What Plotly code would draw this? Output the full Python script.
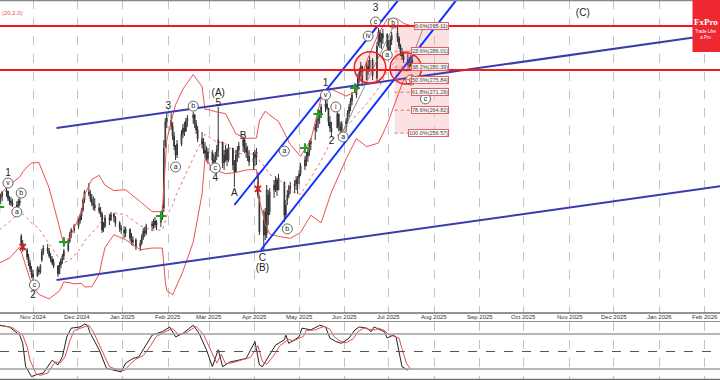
import pandas as pd
import plotly.graph_objects as go

# ---------------- data ----------------
holidays = ["2024-11-28", "2024-12-25", "2025-01-01", "2025-01-09", "2025-01-20",
            "2025-02-17", "2025-04-18", "2025-05-26", "2025-06-19", "2025-07-04"]
bar_dates = pd.bdate_range("2024-10-09", "2025-07-17", freq="C", holidays=holidays)

open_px = [
    230.7, 233.2, 233.9, 235.4, 235.7, 232.9, 232.1, 231.4, 230.7, 230.0, 232.1, 219.5, 217.0, 214.5, 212.0, 209.8, 207.7,
    205.9, 205.1, 207.3, 206.6, 210.9, 213.8, 215.2, 214.1, 212.3, 211.3, 210.2, 208.7, 205.9, 209.1, 210.9, 212.3, 214.5, 217.7, 219.9, 221.7,
    223.1, 224.9, 226.7, 228.9, 232.5, 235.4, 234.7, 232.9, 231.4, 230.7, 229.6, 228.5, 227.5, 222.4, 223.1, 226.0, 225.3, 227.5, 226.4, 224.2, 222.4,
    221.7, 220.6, 222.1, 218.8, 217.4, 218.1, 215.6, 217.0, 219.2, 221.3, 220.6, 223.1, 223.9, 224.9, 223.5, 224.6, 226.0, 229.6, 251.9, 260.6,
    261.3, 259.1, 255.5, 251.9, 248.7, 252.7, 256.3, 258.4, 257.3, 260.9, 262.0, 263.1, 259.9, 257.7, 254.5, 252.7, 250.5, 249.4, 247.3,
    249.8, 246.9, 246.2, 248.3, 250.5, 253.4, 245.8, 248.7, 250.5, 246.9, 251.2, 245.1, 242.6, 248.7, 250.5, 251.9, 254.1, 251.2, 249.8, 248.3, 246.2,
    247.6, 249.1, 241.5, 233.6, 219.9, 228.2, 220.3, 234.3, 228.2, 236.1, 237.9, 239.7, 236.1, 239.0, 227.1, 232.5, 234.3, 236.8, 237.5, 238.3, 238.3,
    240.4, 241.9, 244.7, 246.9, 248.3, 249.8, 252.7, 257.7, 258.8, 260.9, 262.0, 263.8, 266.0, 267.1, 265.6, 260.6, 258.4, 258.4, 263.5, 259.1, 257.7,
    259.9, 260.9, 263.8, 266.0, 268.1, 270.3, 272.8, 276.4, 278.6, 280.7, 275.7, 280.7, 279.3, 282.9, 276.4, 288.7, 293.0, 289.4, 290.8, 292.3,
    287.6, 286.5, 290.1, 292.6, 290.8, 287.9, 285.8, 284.3, 282.9, 282.2, 280.7, 282.9,
]
high_px = [
    233.9, 234.7, 235.7, 237.2, 235.7, 233.9, 233.6, 232.9, 232.1, 232.9, 233.6, 220.3, 218.1, 215.2, 213.1, 210.9, 208.7,
    207.3, 208.7, 208.4, 209.5, 214.9, 216.3, 216.7, 215.2, 213.4, 212.3, 211.3, 209.1, 210.2, 211.6, 213.1, 214.9, 218.8, 221.0, 222.4, 223.9,
    226.0, 227.5, 229.6, 233.2, 236.1, 238.6, 236.1, 234.7, 233.9, 233.2, 231.4, 230.0, 228.2, 224.6, 227.1, 227.5, 228.2, 227.8, 226.7, 224.9, 223.5,
    223.1, 222.8, 222.1, 220.6, 219.5, 218.8, 218.1, 220.3, 222.4, 222.8, 223.9, 224.9, 225.7, 226.4, 225.3, 227.1, 230.7, 254.1, 262.0, 264.2,
    263.8, 260.6, 257.0, 252.3, 254.1, 257.7, 259.9, 260.6, 262.0, 263.1, 264.2, 263.5, 261.3, 259.1, 257.0, 254.8, 253.4, 251.9, 251.2,
    250.5, 249.1, 249.8, 252.3, 266.0, 253.4, 250.5, 252.3, 251.2, 252.7, 251.2, 246.9, 250.5, 251.9, 253.4, 255.2, 254.5, 253.0, 251.9, 250.5, 249.8,
    250.5, 251.2, 242.6, 234.3, 228.9, 229.6, 237.9, 236.1, 236.8, 239.7, 241.1, 240.4, 241.9, 239.0, 232.5, 236.1, 237.9, 239.0, 239.7, 241.1, 241.1,
    243.3, 245.8, 248.3, 249.8, 251.2, 254.1, 254.8, 259.9, 262.0, 263.1, 264.9, 267.1, 268.5, 269.6, 265.6, 262.7, 260.6, 264.9, 263.5, 260.6, 260.9,
    262.0, 264.9, 267.1, 269.2, 271.4, 273.9, 277.9, 280.0, 282.2, 280.7, 282.2, 282.9, 284.3, 283.6, 289.4, 294.4, 293.7, 292.6, 294.1, 292.3,
    290.1, 291.5, 293.0, 295.1, 291.5, 288.7, 287.2, 286.1, 285.1, 284.0, 284.7, 283.6,
]
low_px = [
    230.0, 231.1, 232.1, 233.6, 232.1, 230.7, 230.3, 230.0, 229.3, 230.0, 230.3, 215.9, 213.8, 210.9, 208.7, 206.6, 204.4,
    203.3, 204.8, 205.5, 205.9, 210.2, 212.7, 213.1, 211.6, 210.2, 209.1, 208.0, 204.8, 205.9, 208.0, 209.5, 210.9, 213.8, 217.0, 218.8, 220.6,
    222.1, 223.9, 225.3, 228.2, 231.4, 233.9, 231.8, 230.3, 228.9, 228.5, 227.5, 226.4, 220.6, 221.0, 222.4, 223.5, 224.9, 224.6, 222.8, 221.0, 220.3,
    218.8, 219.2, 217.7, 216.3, 215.9, 214.5, 214.1, 216.3, 218.1, 219.2, 219.9, 221.3, 222.1, 222.4, 221.7, 222.8, 225.3, 228.2, 251.2, 258.4,
    257.7, 254.1, 250.5, 246.9, 247.6, 251.9, 254.8, 255.5, 257.0, 258.8, 259.9, 258.4, 256.3, 253.4, 251.2, 249.1, 247.6, 246.2, 245.5,
    245.5, 244.7, 245.1, 246.9, 248.0, 244.0, 243.3, 246.2, 244.7, 246.2, 243.3, 237.2, 242.6, 246.2, 247.6, 249.8, 249.4, 247.6, 246.5, 244.7, 243.3,
    244.7, 245.1, 233.2, 219.9, 214.5, 218.1, 218.8, 223.5, 227.1, 233.2, 235.4, 233.9, 236.1, 224.6, 226.0, 230.7, 233.2, 234.7, 235.0, 236.1, 234.7,
    238.3, 241.1, 243.3, 244.7, 246.2, 248.3, 250.5, 254.1, 257.0, 258.4, 259.9, 262.0, 264.2, 264.9, 259.1, 257.0, 255.2, 258.4, 257.3, 255.9, 256.6,
    257.0, 259.9, 262.4, 264.5, 266.7, 269.2, 272.1, 275.0, 276.8, 273.5, 275.7, 277.5, 278.6, 275.7, 275.0, 287.9, 287.2, 286.9, 288.7, 286.1,
    285.4, 286.5, 288.3, 289.4, 286.9, 284.3, 282.9, 281.8, 280.7, 279.7, 280.4, 280.0,
]
close_px = [
    233.2, 233.9, 235.4, 236.1, 232.9, 232.1, 231.4, 230.7, 230.0, 232.1, 231.4, 217.0, 214.5, 212.0, 209.8, 207.7, 205.5,
    204.8, 207.7, 206.6, 208.7, 213.8, 215.2, 214.1, 212.3, 211.3, 209.8, 208.7, 205.9, 209.1, 210.9, 212.3, 214.1, 217.7, 219.9, 221.7, 223.1,
    224.9, 226.7, 228.9, 232.5, 235.4, 234.7, 232.9, 231.4, 230.7, 229.6, 228.5, 227.5, 221.7, 223.5, 226.0, 225.3, 227.5, 226.4, 224.2, 222.4, 221.7,
    220.6, 222.1, 218.8, 217.4, 218.1, 215.6, 217.0, 219.2, 221.3, 220.6, 223.1, 223.9, 224.9, 223.5, 224.6, 226.0, 228.9, 251.2, 260.6, 262.0,
    259.1, 255.5, 251.9, 248.7, 252.7, 256.3, 258.4, 257.3, 260.9, 262.0, 263.1, 259.9, 257.7, 254.5, 252.7, 250.5, 249.4, 247.3, 249.8,
    246.9, 246.2, 248.3, 250.5, 254.1, 245.8, 248.7, 250.5, 246.9, 251.2, 245.1, 242.6, 248.7, 250.5, 251.9, 254.1, 251.2, 249.8, 248.3, 246.2, 247.6,
    249.1, 249.8, 234.3, 221.0, 225.3, 219.9, 236.1, 227.1, 235.4, 237.9, 239.7, 236.1, 240.4, 227.1, 230.7, 234.3, 236.8, 237.5, 238.3, 239.7, 240.4,
    241.9, 244.7, 246.9, 248.3, 249.8, 252.7, 253.7, 258.8, 260.9, 262.0, 263.8, 266.0, 267.1, 265.6, 260.6, 258.4, 257.0, 263.5, 259.1, 257.7, 259.9,
    260.9, 263.8, 266.0, 268.1, 270.3, 272.8, 276.4, 278.6, 280.7, 275.0, 280.7, 279.3, 282.9, 277.1, 287.9, 293.0, 289.4, 290.8, 292.3, 287.6,
    286.5, 290.1, 291.9, 290.8, 287.9, 285.8, 284.3, 282.9, 282.2, 280.7, 282.9, 281.5,
]

# Bollinger bands (20, 2.0)
bb_dates = ["2024-10-09", "2024-10-16", "2024-10-23", "2024-10-25", "2024-10-28", "2024-10-31", "2024-11-05", "2024-11-12",
            "2024-11-19", "2024-11-22", "2024-11-26", "2024-11-29", "2024-12-04", "2024-12-06", "2024-12-11", "2024-12-16",
            "2024-12-18", "2024-12-20", "2024-12-26", "2025-01-03", "2025-01-13", "2025-01-21", "2025-01-28", "2025-01-29",
            "2025-01-30", "2025-01-31", "2025-02-04", "2025-02-06", "2025-02-11", "2025-02-18", "2025-02-24", "2025-02-26",
            "2025-02-28", "2025-03-05", "2025-03-12", "2025-03-19", "2025-03-26", "2025-04-02", "2025-04-04", "2025-04-08",
            "2025-04-11", "2025-04-17", "2025-04-25", "2025-05-02", "2025-05-09", "2025-05-16", "2025-05-23", "2025-06-02",
            "2025-06-09", "2025-06-16", "2025-06-24", "2025-06-30", "2025-07-07", "2025-07-11", "2025-07-17"]
bb_upper = [234.3, 237.9, 240.8, 242.6, 244.4, 245.8, 246.0, 236.8, 222.7, 216.1, 218.9, 222.5, 228.4, 234.3, 239.9, 241.4,
            239.6, 237.8, 235.9, 236.2, 231.9, 228.3, 228.3, 237.5, 246.8, 254.0, 262.8, 266.8, 272.4, 277.7, 273.3, 265.1,
            265.1, 264.3, 263.6, 256.3, 254.7, 254.8, 261.0, 264.5, 263.1, 260.8, 252.5, 248.2, 254.2, 269.1, 272.4, 269.9,
            271.6, 282.5, 292.4, 297.6, 297.7, 296.1, 295.1]
bb_middle = [221.7, 224.6, 228.2, 227.5, 226.0, 224.2, 222.2, 216.9, 211.3, 210.0, 210.8, 212.4, 215.5, 217.7, 220.6, 223.5,
             225.3, 226.6, 227.9, 227.2, 223.2, 221.7, 221.7, 223.0, 224.9, 227.0, 230.6, 233.8, 239.6, 247.6, 254.0, 256.2,
             255.5, 253.7, 252.8, 249.3, 249.0, 249.1, 246.6, 244.2, 241.7, 240.1, 235.6, 234.5, 240.6, 246.7, 253.8, 258.6,
             263.1, 267.1, 272.7, 278.7, 283.7, 285.9, 286.4]
bb_lower = [209.8, 211.6, 215.6, 212.3, 207.7, 202.3, 198.5, 196.9, 199.8, 203.0, 202.7, 202.3, 202.5, 201.2, 201.3, 205.7,
            210.9, 215.4, 220.0, 218.2, 214.6, 215.2, 215.2, 208.6, 203.2, 199.9, 198.4, 200.8, 206.8, 217.4, 234.6, 247.4,
            245.9, 243.2, 242.0, 242.4, 243.3, 243.5, 232.4, 223.9, 220.3, 219.4, 218.7, 220.8, 227.0, 224.3, 235.3, 247.3,
            254.6, 251.7, 253.0, 259.8, 269.7, 275.6, 277.8]

# stochastic
stoch_k_dates = ["2024-10-09", "2024-10-16", "2024-10-23", "2024-10-25", "2024-10-27", "2024-10-31", "2024-11-03", "2024-11-08",
                 "2024-11-14", "2024-11-18", "2024-11-21", "2024-11-24", "2024-11-27", "2024-12-03", "2024-12-06", "2024-12-08",
                 "2024-12-10", "2024-12-16", "2024-12-21", "2024-12-26", "2024-12-31", "2025-01-03", "2025-01-08", "2025-01-12",
                 "2025-01-17", "2025-01-21", "2025-01-28", "2025-02-02", "2025-02-06", "2025-02-11", "2025-02-18", "2025-02-22",
                 "2025-02-27", "2025-03-03", "2025-03-07", "2025-03-10", "2025-03-15", "2025-03-21", "2025-03-26", "2025-04-01",
                 "2025-04-04", "2025-04-06", "2025-04-11", "2025-04-15", "2025-04-21", "2025-04-22", "2025-04-24", "2025-05-01",
                 "2025-05-03", "2025-05-09", "2025-05-15", "2025-05-19", "2025-05-22", "2025-05-26", "2025-05-30", "2025-06-04",
                 "2025-06-08", "2025-06-11", "2025-06-16", "2025-06-19", "2025-06-21", "2025-06-25", "2025-06-28", "2025-06-30",
                 "2025-07-04", "2025-07-06", "2025-07-08", "2025-07-10", "2025-07-14"]
stoch_k = [95, 92, 78, 64, 24, 7, 10, 13, 35, 27, 41, 75, 90, 92, 97, 95, 81, 53, 21, 18, 15, 30, 38, 41, 61, 78, 84, 92, 75, 81,
           95, 81, 53, 24, 53, 24, 32, 35, 38, 67, 27, 24, 44, 61, 70, 78, 64, 75, 90, 87, 95, 92, 73, 67, 64, 73, 87, 92, 90, 84,
           92, 87, 84, 73, 78, 75, 47, 24, 18]
stoch_d_dates = ["2024-10-11", "2024-10-18", "2024-10-25", "2024-10-28", "2024-10-30", "2024-11-03", "2024-11-06", "2024-11-11",
                 "2024-11-16", "2024-11-20", "2024-11-23", "2024-11-26", "2024-11-29", "2024-12-05", "2024-12-09", "2024-12-12",
                 "2024-12-18", "2024-12-23", "2024-12-28", "2025-01-02", "2025-01-06", "2025-01-10", "2025-01-15", "2025-01-20",
                 "2025-01-24", "2025-01-30", "2025-02-04", "2025-02-08", "2025-02-13", "2025-02-20", "2025-02-25", "2025-03-02",
                 "2025-03-06", "2025-03-09", "2025-03-12", "2025-03-17", "2025-03-23", "2025-03-29", "2025-04-03", "2025-04-06",
                 "2025-04-09", "2025-04-14", "2025-04-18", "2025-04-24", "2025-04-27", "2025-05-04", "2025-05-06", "2025-05-12",
                 "2025-05-18", "2025-05-22", "2025-05-25", "2025-05-29", "2025-06-02", "2025-06-07", "2025-06-10", "2025-06-14",
                 "2025-06-18", "2025-06-22", "2025-06-24", "2025-06-28", "2025-07-01", "2025-07-05", "2025-07-08", "2025-07-10",
                 "2025-07-13", "2025-07-16"]
stoch_d = [94, 91, 78, 58, 35, 12, 9, 13, 32, 31, 42, 68, 86, 92, 95, 84, 52, 24, 19, 17, 28, 37, 43, 60, 76, 84, 89, 79, 82, 93,
           79, 52, 30, 45, 29, 31, 35, 40, 60, 33, 28, 44, 60, 71, 68, 76, 86, 87, 93, 88, 75, 68, 65, 72, 84, 90, 88, 87, 90, 86,
           79, 76, 73, 55, 30, 19]
stoch_levels = [80, 20]
stoch_mid = 50

# horizontal key levels and trend lines
key_levels = [295.1, 279.3]
trend_long_dates = [["2024-11-17", "2026-02-12"], ["2024-11-17", "2026-02-12"]]
trend_long_prices = [[258.4, 292.4], [203.7, 237.5]]
channel_dates = [["2025-03-18", "2025-07-13"], ["2025-04-05", "2025-08-24"]]
channel_prices = [[230.7, 308.1], [214.5, 309.9]]

# Fibonacci retracement
fib_high, fib_low = 295.11, 256.57
fib_levels = [0.0, 23.6, 38.2, 50.0, 61.8, 78.6, 100.0]
fib_start, fib_end = "2025-07-05", "2025-08-11"

# wave labels
plain_text = ["1", "2", "3", "(A)", "5", "4", "A", "B", "C", "(B)", "1", "2", "3", "(C)"]
plain_dates = ["2024-10-15", "2024-11-01", "2025-02-01", "2025-03-07", "2025-03-07", "2025-03-05", "2025-03-18", "2025-03-24",
               "2025-04-06", "2025-04-06", "2025-05-19", "2025-05-23", "2025-06-22", "2025-11-10"]
plain_prices = [242.2, 198.3, 266.0, 271.0, 267.4, 240.4, 235.0, 255.5, 211.6, 208.0, 274.6, 253.4, 301.3, 299.5]

circ_text = ["v", "a", "b", "c", "a", "b", "c", "a", "b", "v", "i", "a", "iv", "c", "a", "b", "c", "d"]
circ_dates = ["2024-10-15", "2024-10-21", "2024-10-24", "2024-11-02", "2025-02-06", "2025-02-18", "2025-03-05", "2025-04-21",
              "2025-04-23", "2025-05-19", "2025-05-26", "2025-05-31", "2025-06-17", "2025-06-22", "2025-06-30", "2025-07-04",
              "2025-07-26", "2025-07-16"]
circ_prices = [238.6, 228.2, 235.0, 201.9, 244.4, 266.3, 244.0, 250.1, 222.1, 270.3, 266.0, 255.2, 291.5, 296.6, 284.7, 296.2,
               268.9, 275.7]

buy_dates = ["2024-10-09", "2024-11-22", "2025-01-27", "2025-05-05", "2025-05-14", "2025-06-08"]
buy_prices = [230.0, 217.4, 226.7, 251.2, 263.5, 272.8]
sell_dates = ["2024-10-25", "2025-04-03"]
sell_prices = [215.6, 236.5]

circle_dates = ["2025-06-18 07:00", "2025-07-12 14:00"]
circle_prices = [280.2, 279.9]
circle_r_days, circle_r_price = 10.7, 5.65

guide_dates = [["2025-05-30", "2025-07-04"], ["2025-07-13", "2025-07-24"]]
guide_prices = [[256.3, 294.8], [278.6, 293.7]]

month_ticks = pd.date_range("2024-11-01", "2026-02-01", freq="MS")
x_range = ["2024-10-09 13:13", "2026-02-11 08:24"]

# ---------------- figure ----------------
n = min(len(bar_dates), len(open_px), len(high_px), len(low_px), len(close_px))
bar_dates = bar_dates[:n]

fig = go.Figure()
RED = "#f05050"
fig.add_trace(go.Scatter(x=bb_dates, y=bb_upper, mode="lines", line=dict(color=RED, width=1), hoverinfo="skip"))
fig.add_trace(go.Scatter(x=bb_dates, y=bb_lower, mode="lines", line=dict(color=RED, width=1), hoverinfo="skip"))
fig.add_trace(go.Scatter(x=bb_dates, y=bb_middle, mode="lines", line=dict(color=RED, width=0.8, dash="dot"),
                         hoverinfo="skip"))

fig.add_trace(go.Candlestick(
    x=bar_dates, open=open_px[:n], high=high_px[:n], low=low_px[:n], close=close_px[:n],
    increasing=dict(line=dict(color="#303030", width=1), fillcolor="#ffffff"),
    decreasing=dict(line=dict(color="#303030", width=1), fillcolor="#303030"),
    whiskerwidth=0, hoverinfo="skip"))

for d, p in zip(trend_long_dates, trend_long_prices):
    fig.add_trace(go.Scatter(x=d, y=p, mode="lines", line=dict(color="#3b3bb0", width=2), hoverinfo="skip"))
for d, p in zip(channel_dates, channel_prices):
    fig.add_trace(go.Scatter(x=d, y=p, mode="lines", line=dict(color="#1030ff", width=2), hoverinfo="skip"))
for d, p in zip(guide_dates, guide_prices):
    fig.add_trace(go.Scatter(x=d, y=p, mode="lines", line=dict(color="#707070", width=0.8), hoverinfo="skip"))

fig.add_trace(go.Scatter(x=buy_dates, y=buy_prices, mode="markers",
                         marker=dict(symbol="cross-thin", size=7, line=dict(color="#20a020", width=2)), hoverinfo="skip"))
fig.add_trace(go.Scatter(x=sell_dates, y=sell_prices, mode="markers",
                         marker=dict(symbol="x-thin", size=6, line=dict(color="#d02020", width=2)), hoverinfo="skip"))

fig.add_trace(go.Scatter(x=plain_dates, y=plain_prices, mode="text", text=plain_text,
                         textfont=dict(size=10, color="#222", family="Liberation Sans"), hoverinfo="skip"))
fig.add_trace(go.Scatter(x=circ_dates, y=circ_prices, mode="markers+text", text=circ_text, textposition="middle center",
                         marker=dict(size=10, color="white", line=dict(color="#666", width=1)),
                         textfont=dict(size=7, color="#222", family="Liberation Sans"), hoverinfo="skip"))

fig.add_trace(go.Scatter(x=stoch_k_dates, y=stoch_k, mode="lines", line=dict(color="#222", width=1),
                         xaxis="x2", yaxis="y2", hoverinfo="skip"))
fig.add_trace(go.Scatter(x=stoch_d_dates, y=stoch_d, mode="lines", line=dict(color="#e05050", width=1),
                         xaxis="x2", yaxis="y2", hoverinfo="skip"))

shapes = []
shapes.append(dict(type="rect", xref="x", yref="y", x0=fib_start, x1=fib_end, y0=fib_low, y1=fib_high,
                   fillcolor="rgba(235,120,120,0.22)", line=dict(width=0), layer="below"))
annotations = []
for lv in fib_levels:
    price = fib_high - (fib_high - fib_low) * lv / 100.0
    shapes.append(dict(type="line", xref="x", yref="y", x0=fib_start, x1=fib_end, y0=price, y1=price,
                       line=dict(color="#e07070", width=1, dash="dot")))
    annotations.append(dict(x=fib_end, y=price, xref="x", yref="y", text=f"{lv:.1f}%({price:.2f})", showarrow=False,
                            xanchor="right", yanchor="middle", font=dict(size=5.5, color="#444", family="Liberation Sans"),
                            bgcolor="rgba(255,255,255,0.85)", bordercolor="#e06060", borderwidth=1, borderpad=0))
for lvl in key_levels:
    shapes.append(dict(type="line", xref="paper", yref="y", x0=0, x1=1, y0=lvl, y1=lvl,
                       line=dict(color="#f01818", width=2)))
for d, p in zip(circle_dates, circle_prices):
    c = pd.Timestamp(d)
    shapes.append(dict(type="circle", xref="x", yref="y",
                       x0=c - pd.Timedelta(days=circle_r_days), x1=c + pd.Timedelta(days=circle_r_days),
                       y0=p - circle_r_price, y1=p + circle_r_price,
                       fillcolor="rgba(255,60,60,0.13)", line=dict(color="#f02020", width=1.5)))
for lvl in stoch_levels:
    shapes.append(dict(type="line", xref="paper", yref="y2", x0=0, x1=1, y0=lvl, y1=lvl,
                       line=dict(color="#a0a0a0", width=1.5)))
shapes.append(dict(type="line", xref="paper", yref="y2", x0=0, x1=1, y0=stoch_mid, y1=stoch_mid,
                   line=dict(color="#555", width=1, dash="dash")))
MAIN_BOTTOM = 1 - 313 / 380
STOCH_TOP = 1 - 321.5 / 380
for yy, col, w in [(1 - 0.6 / 380, "#888", 1.2), (MAIN_BOTTOM, "#707070", 1.5), (STOCH_TOP, "#909090", 1),
                   (0.6 / 380, "#707070", 1.2)]:
    shapes.append(dict(type="line", xref="paper", yref="paper", x0=0, x1=1, y0=yy, y1=yy, line=dict(color=col, width=w)))
shapes.append(dict(type="rect", xref="paper", yref="paper", x0=692.5 / 720, x1=1.02, y0=1 - 52 / 380, y1=1.01,
                   fillcolor="#ee2730", line=dict(width=0)))

last_tick = len(month_ticks) - 1
for i, t in enumerate(month_ticks):
    if i == last_tick:
        annotations.append(dict(x=1, y=1 - 317 / 380, xref="paper", yref="paper", text=t.strftime("%b %Y"),
                                showarrow=False, xanchor="right", yanchor="middle",
                                font=dict(size=6, color="#333", family="Liberation Sans")))
    else:
        annotations.append(dict(x=t, y=1 - 317 / 380, xref="x", yref="paper", text=t.strftime("%b %Y"), showarrow=False,
                                xanchor="center", yanchor="middle", font=dict(size=6, color="#333", family="Liberation Sans")))
annotations.append(dict(x=0, y=1 - 13 / 380, xref="paper", yref="paper", text="(20,2.0)", showarrow=False,
                        xanchor="left", yanchor="middle", font=dict(size=6, color="#f05050", family="Liberation Sans")))
annotations.append(dict(x=706 / 720, y=1 - 22 / 380, xref="paper", yref="paper", text="<b>FxPro</b>", showarrow=False,
                        xanchor="center", yanchor="middle", font=dict(size=9, color="white", family="Liberation Serif")))
annotations.append(dict(x=706 / 720, y=1 - 35 / 380, xref="paper", yref="paper", text="Trade Like<br>a Pro",
                        showarrow=False, xanchor="center", yanchor="middle",
                        font=dict(size=4.5, color="white", family="Liberation Sans")))

axis_common = dict(type="date", range=x_range, tickvals=month_ticks, showticklabels=False, showgrid=True,
                   gridcolor="#c4c4c4", griddash="dash", gridwidth=1, zeroline=False, showline=False, ticks="",
                   fixedrange=True)
fig.update_layout(
    width=720, height=380, margin=dict(l=0, r=0, t=0, b=0),
    paper_bgcolor="white", plot_bgcolor="white", showlegend=False,
    xaxis=dict(domain=[0, 1], anchor="y", rangeslider=dict(visible=False), **axis_common),
    yaxis=dict(domain=[MAIN_BOTTOM, 1], range=[191.82, 304.5], showgrid=False, showticklabels=False,
               zeroline=False, fixedrange=True),
    xaxis2=dict(domain=[0, 1], anchor="y2", **axis_common),
    yaxis2=dict(domain=[0, STOCH_TOP], range=[1.14, 101.4], showgrid=False, showticklabels=False,
                zeroline=False, fixedrange=True),
    shapes=shapes, annotations=annotations,
)
fig.write_html("out.html", config={"displayModeBar": False, "staticPlot": True},
               post_script="document.body.style.margin='0px';document.body.style.overflow='hidden';")
